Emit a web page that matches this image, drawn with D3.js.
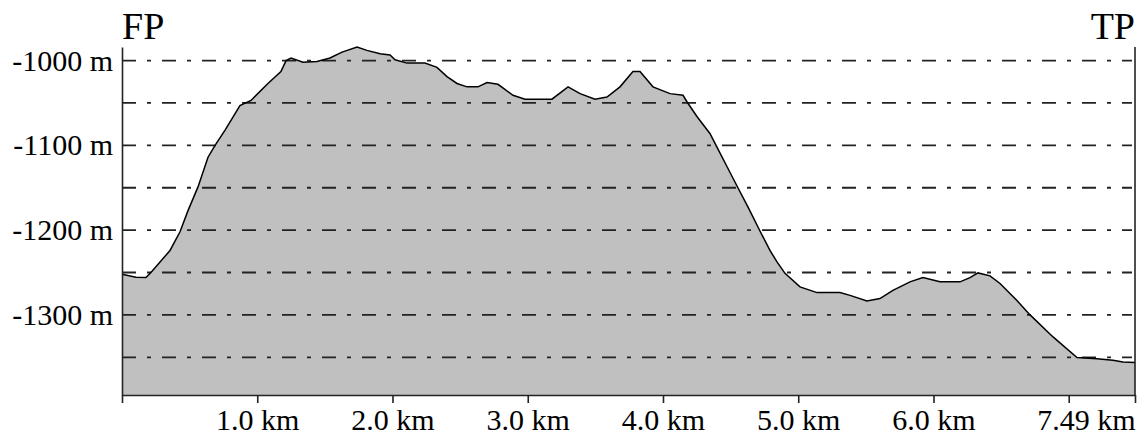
<!DOCTYPE html>
<html>
<head>
<meta charset="utf-8">
<script src="https://cdn.jsdelivr.net/npm/d3@7"></script>
<style>
	body { margin: 0; background: #fff; }
	text { font-family: "Liberation Serif", "Times New Roman", serif; fill: #000; }
</style>
</head>
<body>
<svg id="chart" width="1146" height="447"></svg>
<script>
// distance along the profile (km) and the elevation there (m)
var distKm = [0, 0.104, 0.177, 0.214, 0.355, 0.429, 0.488, 0.562, 0.636, 0.688, 0.762, 0.872, 0.954,
	1.079, 1.175, 1.213, 1.250, 1.338, 1.442, 1.538, 1.627, 1.738, 1.811, 1.908, 1.982, 2.019, 2.107,
	2.240, 2.329, 2.403, 2.477, 2.551, 2.632, 2.699, 2.780, 2.891, 2.980, 3.179, 3.298, 3.387, 3.497,
	3.586, 3.682, 3.778, 3.830, 3.926, 4.052, 4.148, 4.177, 4.251, 4.347, 4.399, 4.473, 4.554, 4.628,
	4.717, 4.791, 4.843, 4.902, 5.013, 5.139, 5.309, 5.383, 5.508, 5.604, 5.700, 5.826, 5.922, 6.048,
	6.196, 6.270, 6.329, 6.418, 6.492, 6.617, 6.714, 6.884, 7.061, 7.209, 7.327, 7.401, 7.49];
var elevM = [-1252, -1255.5, -1256, -1250, -1224, -1202, -1177, -1149, -1114, -1100, -1082, -1053, -1047,
	-1027, -1013, -1000, -997, -1002, -1001, -997, -990, -984, -988, -992, -993.5, -999, -1003,
	-1003, -1008, -1019, -1027, -1031, -1031, -1026, -1028, -1041, -1045.5, -1045.5, -1031, -1039, -1045.5,
	-1043, -1031, -1013, -1013, -1031, -1039, -1041, -1048.6, -1066, -1086, -1102, -1125, -1150, -1172.6,
	-1201, -1224, -1237.5, -1251, -1267, -1273.7, -1273.7, -1277, -1283.6, -1280.8, -1271, -1261, -1256, -1261,
	-1261, -1256, -1250.5, -1254, -1263, -1283, -1300, -1326, -1350.4, -1351.6, -1353.6, -1355.6, -1356.3];

var xTicks = [0, 1, 2, 3, 4, 5, 6, 7, 7.49];
var xTickLabels = ['', '1.0 km', '2.0 km', '3.0 km', '4.0 km', '5.0 km', '6.0 km', '7.49 km', ''];
var yTicks = [-1000, -1100, -1200, -1300];
var gridLevels = [-1000, -1050, -1100, -1150, -1200, -1250, -1300, -1350];
var endLabels = ['FP', 'TP'];

var svg = d3.select('#chart');

// plot box (note: "top" is taken by window.top)
var plotL = 122, plotR = 1135, plotT = 47, plotB = 395;

var x = d3.scaleLinear().domain([0, 7.49]).range([plotL, plotR]);
var y = d3.scaleLinear().domain([-1394.5, -984]).range([plotB, plotT]);

var data = distKm.map(function(d, i) { return { d: d, e: elevM[i] }; });

// filled profile
svg.append('path')
	.datum(data)
	.attr('d', d3.area()
		.x(function(p) { return x(p.d); })
		.y0(y.range()[0])
		.y1(function(p) { return y(p.e); }))
	.attr('fill', '#c0c0c0');

// dash-dot grid every 50 m
svg.append('g').selectAll('line')
	.data(gridLevels)
	.enter().append('line')
	.attr('x1', plotL)
	.attr('x2', plotR - 3)
	.attr('y1', function(d) { return y(d); })
	.attr('y2', function(d) { return y(d); })
	.attr('stroke', '#222')
	.attr('stroke-width', 1.8)
	.attr('stroke-dasharray', '14,11,4,11');

// profile outline
svg.append('path')
	.datum(data)
	.attr('d', d3.line()
		.x(function(p) { return x(p.d); })
		.y(function(p) { return y(p.e); }))
	.attr('fill', 'none')
	.attr('stroke', '#000')
	.attr('stroke-width', 1.5);

// bottom axis
var xAxis = svg.append('g')
	.attr('transform', 'translate(0,' + plotB + ')')
	.call(d3.axisBottom(x)
		.tickValues(xTicks)
		.tickSize(8)
		.tickSizeOuter(0)
		.tickPadding(6)
		.tickFormat(function(d, i) { return xTickLabels[i]; }));

xAxis.selectAll('text')
	.attr('font-size', 30)
	.attr('dy', '0.71em');

// the last label is pushed so it ends on the right edge
xAxis.selectAll('.tick').filter(function(d) { return d === 7; }).select('text')
	.attr('text-anchor', 'end')
	.attr('x', x(7.49) - x(7));

// left axis
var yAxis = svg.append('g')
	.attr('transform', 'translate(' + plotL + ',0)')
	.call(d3.axisLeft(y)
		.tickValues(yTicks)
		.tickSize(0)
		.tickSizeOuter(0)
		.tickPadding(9)
		.tickFormat(function(d) { return String(d) + ' m'; }));

yAxis.selectAll('text')
	.attr('font-size', 30);

svg.selectAll('.domain, .tick line')
	.attr('stroke', '#222')
	.attr('stroke-width', 1.6);

// right edge
svg.append('line')
	.attr('x1', plotR).attr('x2', plotR)
	.attr('y1', plotT).attr('y2', plotB)
	.attr('stroke', '#222')
	.attr('stroke-width', 1.6);

// start / end markers
svg.append('text')
	.attr('x', plotL)
	.attr('y', 39)
	.attr('font-size', 38)
	.text(endLabels[0]);

svg.append('text')
	.attr('x', plotR)
	.attr('y', 39)
	.attr('font-size', 38)
	.attr('text-anchor', 'end')
	.text(endLabels[1]);
</script>
</body>
</html>
